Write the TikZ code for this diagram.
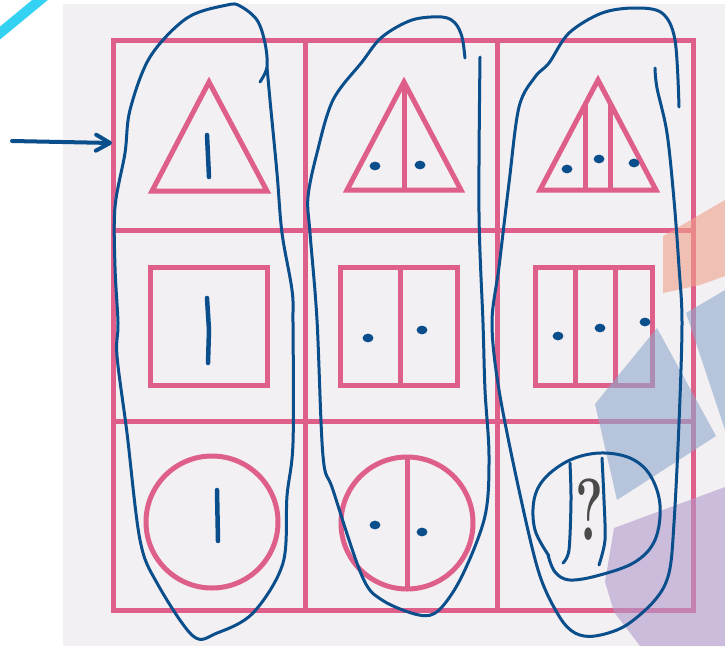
\documentclass[tikz,border=0pt]{standalone}
\usepackage{xcolor}
\usepackage{tikz}
\usetikzlibrary{arrows.meta}
\definecolor{paper}{HTML}{F3F0F3}
\definecolor{gridpink}{HTML}{DE5F89}
\definecolor{inkblue}{HTML}{0A4E8C}
\definecolor{skyline}{HTML}{33D1F2}
\definecolor{tapeorange}{HTML}{EFA08A}
\definecolor{tapeblue}{HTML}{8EA9CB}
\definecolor{tapepurple}{HTML}{B39ACE}
\definecolor{printgray}{HTML}{4A4A4A}

\begin{document}
\begin{tikzpicture}[x=1pt, y=-1pt,
  gridline/.style={gridpink, line width=5pt},
  figline/.style={gridpink, line width=5pt},
  ink/.style={inkblue, line width=3pt, line cap=round, line join=round},
  tick/.style={inkblue, line width=4.5pt, line cap=round},
  blot/.style={fill=inkblue},
  tape/.style={opacity=0.6}
]
  \useasboundingbox (0,0) rectangle (725,646);
  \fill[white] (0,0) rectangle (725,646);
  \draw[skyline, line width=10pt] (-6,38) -- (46,-5);
  \fill[paper] (63,4) rectangle (725,646);

  % grid
  \draw[gridline] (113,40) rectangle (693,610);
  \foreach \gx in {305,497} \draw[gridline] (\gx,40) -- (\gx,610);
  \foreach \gy in {230,421} \draw[gridline] (113,\gy) -- (693,\gy);

  % top row
  \draw[figline] (209,82) -- (267,191) -- (152,191) -- cycle;
  \draw[figline] (404,82) -- (461,190) -- (347,190) -- cycle;
  \draw[figline] (404,82) -- (404,190);
  \draw[figline] (598,80) -- (656,190) -- (540,190) -- cycle;
  \draw[figline] (585,105) -- (585,190);
  \draw[figline] (610,103) -- (610,190);

  % middle row
  \draw[figline] (150,267) rectangle (267,385);
  \draw[figline] (340,267) rectangle (457,385);
  \draw[figline] (400,267) -- (400,385);
  \draw[figline] (535,267) rectangle (652,385);
  \foreach \vx in {575,615} \draw[figline] (\vx,267) -- (\vx,385);

  % bottom row
  \draw[figline] (212,522) circle[radius=66pt];
  \draw[figline] (407,523) circle[radius=66pt];
  \draw[figline] (407,457) -- (407,589);
  \node[text=printgray, font=\fontsize{88}{88}\selectfont\bfseries, inner sep=0pt] (qmark) at (590,510) {\scalebox{0.6}[1]{?}};

  % background tape
  \fill[tapeorange, tape] (663,236) -- (725,200) -- (725,276) -- (700,285) -- (663,293) -- cycle;
  \fill[tapeblue, tape] (595,404) -- (657,328) -- (716,436) -- (617,500) -- cycle;
  \fill[tapeblue, tape] (686,313) -- (725,290) -- (725,430) -- cycle;
  \fill[tapepurple, tape] (614,528) -- (725,487) -- (725,646) -- (640,646) -- (614,612) -- (605,582) -- cycle;

  % marks
  \coordinate (arrowtail) at (12,141);
  \coordinate (arrowtip) at (112,143);
  \draw[ink, line width=4pt, -{Straight Barb[length=14pt,width=16pt,round]}] (arrowtail) -- (arrowtip);

  \draw[tick] (207,135) -- (209,177);
  \draw[tick] (207,298) -- (209,330) -- (208,363);
  \draw[tick] (217,490) -- (218,541);

  \foreach \dx/\dy in {375/166,420/165,567/169,599/159,634/163,368/338,422/330,558/336,600/328,645/322,375/525,422/532}
    \fill[blot] (\dx,\dy) ellipse[x radius=5.4pt, y radius=4.4pt];

  \draw[ink] plot[smooth, tension=0.55] coordinates {(260,82) (267,67) (265,43) (257,20) (240,6) (227,5) (187,18) (150,57) (130,110) (125,153) (115,207) (115,267) (118,323) (117,356) (127,433) (140,540) (157,583) (193,636) (217,633) (253,613) (283,563) (287,496) (293,443) (293,323) (292,290) (282,233) (277,173) (270,100) (267,67)};

  \draw[ink] plot[smooth, tension=0.55] coordinates {(465,58) (462,37) (455,23) (442,17) (412,20) (382,37) (362,62) (333,100) (317,153) (308,197) (310,233) (317,320) (323,456) (333,490) (362,576) (382,600) (419,615) (439,610) (462,576) (485,516) (489,456) (485,390) (483,323) (479,213) (480,57)};

  \draw[ink] plot[smooth, tension=0.55] coordinates {(655,68) (657,88) (667,133) (674,200) (679,267) (682,323) (679,423) (674,523) (669,573) (655,600) (625,626) (595,636) (575,633) (559,616) (539,573) (519,490) (499,390) (492,323) (499,267) (509,183) (519,107) (535,77) (549,63) (569,33) (602,13) (635,8) (662,13) (675,40) (679,107)};

  \draw[ink] plot[smooth, tension=0.6] coordinates {(549,556) (535,530) (534,500) (545,478) (570,460) (600,453) (630,458) (650,475) (660,505) (655,540) (635,562) (600,575) (570,580) (555,572) (548,555)};
  \draw[ink] plot[smooth, tension=0.5] coordinates {(570,463) (571,500) (569,550) (563,563)};
  \draw[ink] plot[smooth, tension=0.5] coordinates {(602,458) (604,500) (605,540) (599,565)};
\end{tikzpicture}
\end{document}
